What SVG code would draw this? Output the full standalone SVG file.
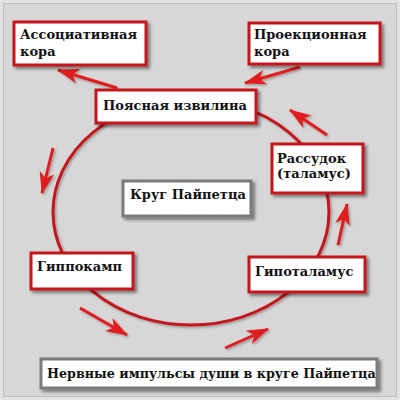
<svg xmlns="http://www.w3.org/2000/svg" width="400" height="400" viewBox="0 0 400 400">
<defs>
<filter id="sh" x="-20%" y="-30%" width="150%" height="170%">
<feDropShadow dx="2.5" dy="2.5" stdDeviation="1.8" flood-color="#000" flood-opacity="0.45"/>
</filter>
<filter id="lsh" x="-30%" y="-30%" width="160%" height="160%">
<feDropShadow dx="1.5" dy="1.5" stdDeviation="1" flood-color="#000" flood-opacity="0.3"/>
</filter>
<marker id="ah" viewBox="0 0 22 15" refX="21" refY="7.5" markerWidth="22" markerHeight="15" markerUnits="userSpaceOnUse" orient="auto">
<path d="M0,0 L22,7.5 L0,15 L6,7.5 Z" fill="#e01b1b"/>
</marker>
</defs>
<style>
.node rect{fill:#fff;stroke:#c4161c;stroke-width:3}
.gray rect{stroke:#7a7a7a}
.lbl{font-family:"DejaVu Serif",serif;font-weight:bold;font-size:13px;fill:#111}
.arr{stroke:#e01b1b;stroke-width:3;fill:none;marker-end:url(#ah)}
</style>
<rect x="0" y="0" width="400" height="400" fill="#e2e2e2"/>
<rect x="3.5" y="3.5" width="393" height="393" fill="#d7d7d7" stroke="#bdbdbd" stroke-width="1"/>
<g id="connectors" filter="url(#lsh)">
<ellipse cx="191" cy="212" rx="138" ry="113" fill="none" stroke="#c4161c" stroke-width="3"/>
<line class="arr" x1="117" y1="88" x2="58" y2="70"/>
<line class="arr" x1="300" y1="67" x2="245" y2="83"/>
<line class="arr" x1="327" y1="135" x2="290" y2="110"/>
<line class="arr" x1="338" y1="245" x2="347" y2="204"/>
<line class="arr" x1="53" y1="148" x2="42" y2="193"/>
<line class="arr" x1="80" y1="308" x2="127" y2="335"/>
<line class="arr" x1="225" y1="348" x2="268" y2="329"/>
</g>
<g id="assoc" class="node">
<rect x="14" y="22" width="132" height="43" filter="url(#sh)"/>
<text class="lbl" x="20" y="39">Ассоциативная</text>
<text class="lbl" x="20" y="56">кора</text>
</g>
<g id="proj" class="node">
<rect x="249" y="23" width="131" height="41" filter="url(#sh)"/>
<text class="lbl" x="254" y="39">Проекционная</text>
<text class="lbl" x="254" y="56">кора</text>
</g>
<g id="pojas" class="node">
<rect x="96" y="90" width="160" height="33" filter="url(#sh)"/>
<text class="lbl" x="103" y="110">Поясная извилина</text>
</g>
<g id="rassudok" class="node">
<rect x="272" y="144" width="91" height="49" filter="url(#sh)"/>
<text class="lbl" x="277" y="163">Рассудок</text>
<text class="lbl" x="277" y="178">(таламус)</text>
</g>
<g id="krug" class="node gray">
<rect x="123" y="181" width="128" height="35" filter="url(#sh)"/>
<text class="lbl" x="130" y="199">Круг Пайпетца</text>
</g>
<g id="gippokamp" class="node">
<rect x="31" y="253" width="102" height="36" filter="url(#sh)"/>
<text class="lbl" x="37" y="271">Гиппокамп</text>
</g>
<g id="gipotal" class="node">
<rect x="249" y="257" width="116" height="35" filter="url(#sh)"/>
<text class="lbl" x="255" y="276">Гипоталамус</text>
</g>
<g id="bottom" class="node gray">
<rect x="41" y="359" width="336" height="29" stroke-width="2" filter="url(#sh)"/>
<text class="lbl" x="47" y="378" style="font-size:12.7px">Нервные импульсы души в круге Пайпетца</text>
</g>
</svg>
